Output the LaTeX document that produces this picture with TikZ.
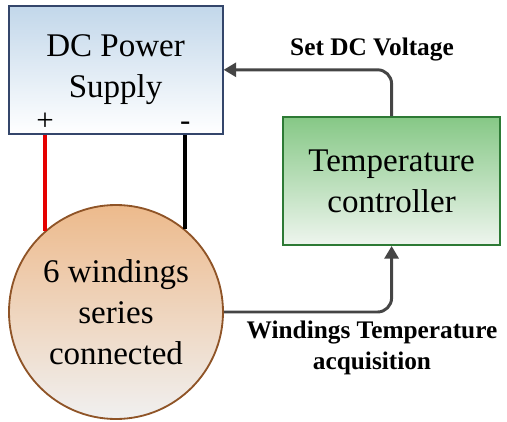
\documentclass[tikz,border=0pt]{standalone}
\usepackage{fontspec}
\setmainfont{Liberation Serif}
\usetikzlibrary{arrows.meta, positioning, calc}

\definecolor{dcTop}{HTML}{C2D7EA}
\definecolor{dcLine}{HTML}{34466B}
\definecolor{ctrlTop}{HTML}{86C886}
\definecolor{ctrlBot}{HTML}{EEF5EE}
\definecolor{ctrlLine}{HTML}{2D7A35}
\definecolor{windTop}{HTML}{EDBA8C}
\definecolor{windBot}{HTML}{F0F0F0}
\definecolor{windLine}{HTML}{8F5427}
\definecolor{arrowGray}{HTML}{454545}

\begin{document}
\begin{tikzpicture}[
    every node/.style={font=\fontsize{23.5}{29}\selectfont},
    box/.style={rectangle, draw, line width=1.4pt, minimum width=5.35cm, minimum height=3.2cm, align=center},
    coil/.style={circle, draw, line width=1.3pt, minimum size=5.35cm, align=center, inner sep=0pt},
    wire/.style={line width=2.8pt},
    arrow/.style={-{Triangle[length=9pt, width=10pt]}, line width=2.1pt, arrowGray, rounded corners=10pt},
    label/.style={font=\bfseries\fontsize{18}{21.5}\selectfont, align=center},
    pole/.style={font=\fontsize{22}{24}\selectfont, inner sep=0pt}
]
\useasboundingbox (0,0) rectangle (12.675,10.525);

% ============ BLOCKS ============
\node[box, draw=dcLine, top color=dcTop, bottom color=white] (dc) at (2.89, 8.78) {DC Power\\Supply};
\node[box, draw=ctrlLine, top color=ctrlTop, bottom color=ctrlBot, minimum width=5.425cm] (ctrl) at (9.79, 6.0) {Temperature\\controller};
\node[coil, draw=windLine, top color=windTop, bottom color=windBot] (wind) at (2.9, 2.725) {6 windings\\series\\connected};

% ============ WIRES ============
\draw[wire, red!90!black] (wind.131) -- (wind.131 |- dc.south);
\draw[wire, black] (wind.50) -- (wind.50 |- dc.south);
\node[pole, above=3pt] (plus) at (wind.131 |- dc.south) {+};
\node[pole, above=3pt] (minus) at (wind.50 |- dc.south) {-};

% ============ SIGNALS ============
\draw[arrow] (ctrl.north) |- (dc.east);
\draw[arrow] (wind.east) -| (ctrl.south);

\node[label] (setv) at (9.3, 9.28) {Set DC Voltage};
\node[label] (acq) at (9.3, 1.83) {Windings Temperature\\acquisition};

\end{tikzpicture}
\end{document}
